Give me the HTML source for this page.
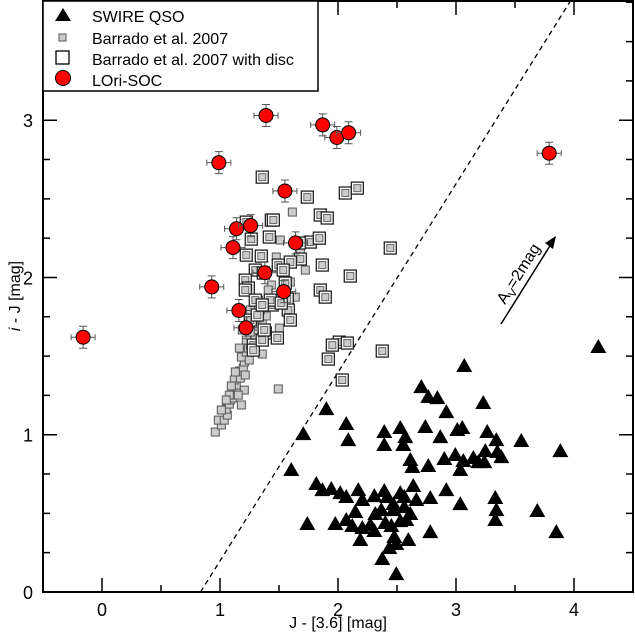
<!DOCTYPE html>
<html><head><meta charset="utf-8"><style>
body{margin:0;background:#fff;}
svg{display:block;font-family:"Liberation Sans",Arial,sans-serif;}
</style></head><body>
<svg id="c" width="635" height="640" viewBox="0 0 635 640"></svg>
<script>
const qsoX=[],qsoY=[];
const qsoPx=[[303,434],[326,409],[291,470],[346,424],[348,440],[384,432],[400,428],[405,437],[384,445],[428,397],[437,398],[464,366],[483,403],[421,387],[446,412],[403,445],[425,427],[440,437],[457,430],[462,428],[487,432],[496,440],[485,451],[473,458],[497,452],[410,460],[412,467],[428,466],[444,459],[455,455],[460,470],[463,461],[478,462],[484,462],[501,457],[521,441],[560,451],[598,347],[316,484],[322,490],[331,489],[340,493],[358,490],[346,497],[362,500],[374,496],[384,491],[387,497],[400,493],[413,486],[404,497],[393,504],[393,510],[416,500],[430,498],[446,490],[460,504],[495,498],[496,510],[495,520],[537,511],[556,532],[307,524],[335,524],[346,520],[355,512],[352,526],[360,540],[370,525],[385,523],[391,526],[394,537],[389,548],[381,510],[375,514],[400,521],[396,544],[404,507],[410,514],[382,559],[396,574],[408,540],[430,532],[406,520],[374,531],[362,528]];
const barX=[],barY=[];
const barPx=[[215,432],[221,425],[218,420],[224,420],[227,415],[226,409],[229,404],[230,400],[232,398],[234,393],[237,390],[236,385],[234,380],[240,378],[239,371],[243,368],[244,362],[241,357],[246,352],[248,348],[250,345],[252,338],[255,335],[254,330],[258,326],[262,320],[266,316],[260,310],[264,305],[268,300],[250,310],[256,318],[242,330],[246,340],[239,348],[264,340],[279,328],[278,389],[276,257],[280,240],[271,285],[290,282],[305,270],[292,212],[295,297],[300,250],[241,405],[229,395],[235,372],[244,390],[262,354],[249,360],[231,386],[221,410],[226,400],[238,395],[245,375],[250,332],[258,300],[268,290]];
const discX=[],discY=[];
const discPx=[[262,177],[307,197],[320,215],[327,218],[345,193],[357,188],[390,248],[350,276],[246,222],[271,220],[273,220],[269,237],[251,239],[246,255],[261,256],[300,259],[322,265],[278,265],[290,262],[310,242],[319,238],[299,243],[255,270],[263,273],[245,280],[248,288],[283,270],[285,283],[287,299],[245,290],[255,300],[320,290],[325,297],[250,320],[257,315],[265,333],[277,338],[253,345],[253,350],[262,340],[264,330],[328,359],[339,342],[332,345],[342,380],[382,351],[288,310],[272,305],[270,300],[290,320],[262,305],[281,303],[347,343]];
const lsocX=[-0.16,0.99,1.39,1.87,1.99,2.09,3.79,1.55,1.14,1.26,1.11,1.64,0.93,1.38,1.54,1.16,1.22];
const lsocY=[1.62,2.73,3.03,2.97,2.89,2.92,2.79,2.55,2.31,2.33,2.19,2.22,1.94,2.03,1.91,1.79,1.68];
const xTicks=[0,1,2,3,4];
const yTicks=[0,1,2,3];
// convert estimated pixel readings into data values
function toData(p,X,Y){p.forEach(q=>{X.push(+((q[0]-101.7)/118).toFixed(3));Y.push(+((592-q[1])/157.3).toFixed(3));});}
toData(qsoPx,qsoX,qsoY);toData(barPx,barX,barY);toData(discPx,discX,discY);

const L=43,R=633,T=1,B=592;
const xmin=-0.5,xmax=4.5,ymin=0,ymax=3.758;
const sx=v=>L+(v-xmin)/(xmax-xmin)*(R-L);
const sy=v=>B-(v-ymin)/(ymax-ymin)*(B-T);
const svg=document.getElementById('c');
const NS='http://www.w3.org/2000/svg';
function mk(t,a,p){const e=document.createElementNS(NS,t);for(const k in a)e.setAttribute(k,a[k]);(p||svg).appendChild(e);return e;}

// dashed line
const dl=mk('line',{x1:sx(0.835),y1:sy(0),x2:sx(3.97),y2:sy(3.758),stroke:'#000','stroke-width':1.3,'stroke-dasharray':'5,4'});



// gray squares
const gb=mk('g',{});


barX.forEach((x,i)=>{const r=mk('rect',{x:sx(x)-4,y:sy(barY[i])-4,width:8,height:8,fill:'#ccc',stroke:'#555','stroke-width':1},gb);

});
// disc squares
const gd=mk('g',{});


discX.forEach((x,i)=>{const cx=sx(x),cy=sy(discY[i]);
const r=mk('rect',{x:cx-6,y:cy-6,width:12,height:12,fill:'#fff',stroke:'#222','stroke-width':1.3},gd);


mk('rect',{x:cx-3.5,y:cy-3.5,width:7,height:7,fill:'#ccc',stroke:'#666','stroke-width':1},gd);});
// triangles
const gq=mk('g',{});


qsoX.forEach((x,i)=>{const cx=sx(x),cy=sy(qsoY[i]);
const p=mk('polygon',{points:`${cx},${cy-8} ${cx-8},${cy+6} ${cx+8},${cy+6}`,fill:'#000'},gq);

});
// red circles with error bars
const gl=mk('g',{});


lsocX.forEach((x,i)=>{const cx=sx(x),cy=sy(lsocY[i]);
mk('path',{d:`M${cx-12},${cy}H${cx+12}M${cx-12},${cy-3}V${cy+3}M${cx+12},${cy-3}V${cy+3}M${cx},${cy-11}V${cy+11}M${cx-4},${cy-11}H${cx+4}M${cx-4},${cy+11}H${cx+4}`,stroke:'#555','stroke-width':1,fill:'none'},gl);
const c=mk('circle',{cx:cx,cy:cy,r:7,fill:'#f00',stroke:'#000','stroke-width':1},gl);

});

// frame & ticks
const fr=mk('rect',{x:L,y:T,width:R-L,height:B-T,fill:'none',stroke:'#000','stroke-width':2});


let d='';
for(let v=-0.5;v<=4.5;v+=0.5){const x=sx(v);const maj=Math.abs(v-Math.round(v))<1e-6;const len=maj?14:7;d+=`M${x},${B}V${B-len}M${x},${T}V${T+len}`;}
for(let v=0;v<=3.75;v+=0.25){const y=sy(v);const maj=Math.abs(v-Math.round(v))<1e-6;const len=maj?14:7;d+=`M${L},${y}H${L+len}M${R},${y}H${R-len}`;}
mk('path',{d:d,stroke:'#000','stroke-width':1.5,fill:'none'});
xTicks.forEach(v=>{const t=mk('text',{x:sx(v),y:B+24,'text-anchor':'middle','font-size':18});t.textContent=v;

});
yTicks.forEach(v=>{const t=mk('text',{x:L-10,y:sy(v)+7,'text-anchor':'end','font-size':18});t.textContent=v;

});
const xt=mk('text',{x:338,y:628,'text-anchor':'middle','font-size':16});xt.textContent='J - [3.6] [mag]';


const yt=mk('text',{x:0,y:0,'text-anchor':'middle','font-size':16,transform:'translate(20,296) rotate(-90)'});
yt.innerHTML='<tspan font-style="italic">i</tspan> - J [mag]';



// extinction arrow
const ar=mk('g',{});


mk('line',{x1:501,y1:324,x2:553,y2:241,stroke:'#000','stroke-width':1.5},ar);
mk('polygon',{points:'556,236 545,243 553,249',fill:'#000'},ar);
const at=mk('text',{x:0,y:0,'font-size':16,transform:'translate(505,305) rotate(-58)'});
at.innerHTML='A<tspan font-size="11" dy="4">V</tspan><tspan dy="-4">=2mag</tspan>';



// legend
const lg=mk('g',{});


mk('rect',{x:L,y:T,width:275,height:90,fill:'#fff',stroke:'#000','stroke-width':1.5},lg);
const items=[['SWIRE QSO',16],['Barrado et al. 2007',38],['Barrado et al. 2007 with disc',59],['LOri-SOC',80]];
mk('polygon',{points:'63,8 55,21 71,21',fill:'#000'},lg);
mk('rect',{x:59,y:34,width:7,height:7,fill:'#ccc',stroke:'#555'},lg);
mk('rect',{x:56,y:51,width:13,height:13,fill:'#fff',stroke:'#000','stroke-width':1.3},lg);
mk('circle',{cx:63,cy:78,r:7.5,fill:'#f00',stroke:'#000'},lg);
items.forEach(it=>{const t=mk('text',{x:92,y:it[1]+6,'font-size':16},lg);t.textContent=it[0];

});
</script>
</body></html>
